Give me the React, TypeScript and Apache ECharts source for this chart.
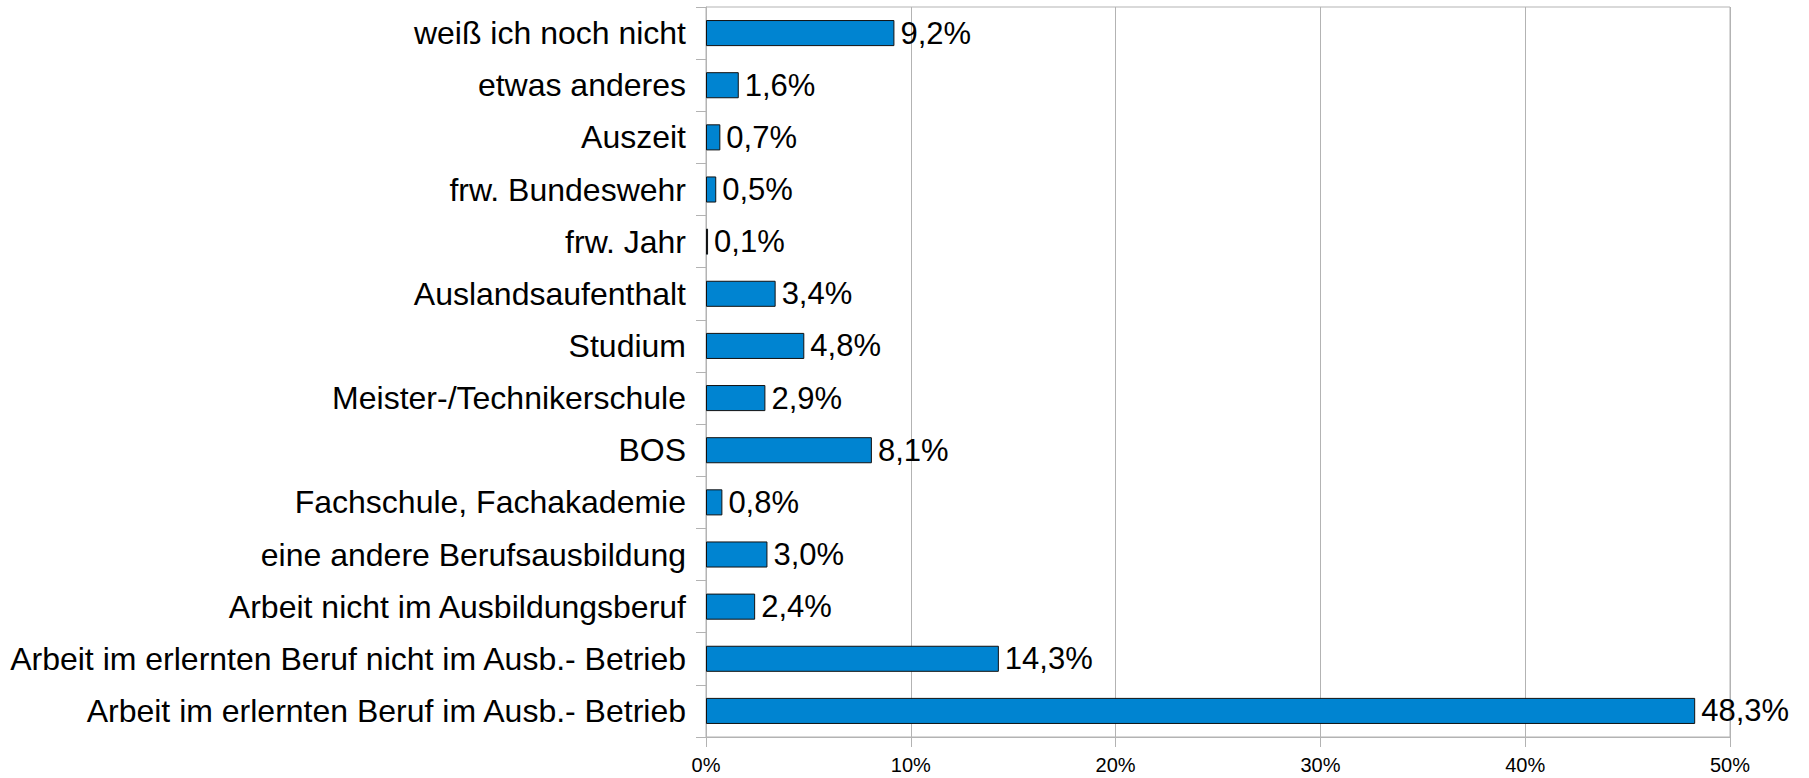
import React, { useEffect, useRef } from "react";
import * as echarts from "echarts";

// Categories listed bottom to top (ECharts category axis draws first at bottom)
const categories: string[] = [
  "Arbeit im erlernten Beruf im Ausb.- Betrieb",
  "Arbeit im erlernten Beruf nicht im Ausb.- Betrieb",
  "Arbeit nicht im Ausbildungsberuf",
  "eine andere Berufsausbildung",
  "Fachschule, Fachakademie",
  "BOS",
  "Meister-/Technikerschule",
  "Studium",
  "Auslandsaufenthalt",
  "frw. Jahr",
  "frw. Bundeswehr",
  "Auszeit",
  "etwas anderes",
  "weiß ich noch nicht",
];

const values: number[] = [48.3, 14.3, 2.4, 3.0, 0.8, 8.1, 2.9, 4.8, 3.4, 0.1, 0.5, 0.7, 1.6, 9.2];

const xMin = 0;
const xMax = 50;
const xInterval = 10;

const FONT = "'Liberation Sans', Arial, sans-serif";
const GRAY = "#b3b3b3";

export default function App() {
  const ref = useRef<HTMLDivElement>(null);

  useEffect(() => {
    document.body.style.margin = "0";
    if (!ref.current) return;
    const chart = echarts.init(ref.current, undefined, { renderer: "svg" });
    chart.setOption({
      animation: false,
      backgroundColor: "#ffffff",
      textStyle: { fontFamily: FONT, color: "#000" },
      grid: {
        left: 706,
        top: 7,
        width: 1024,
        height: 730,
        show: true,
        borderColor: GRAY,
        borderWidth: 1,
        backgroundColor: "transparent",
      },
      xAxis: {
        type: "value",
        min: xMin,
        max: xMax,
        interval: xInterval,
        axisLine: { show: true, lineStyle: { color: GRAY, width: 1 } },
        axisTick: { show: true, length: 10, lineStyle: { color: GRAY, width: 1 } },
        splitLine: { show: true, lineStyle: { color: GRAY, width: 1 } },
        axisLabel: {
          formatter: "{value}%",
          fontSize: 20,
          color: "#000",
          fontFamily: FONT,
          margin: 18,
        },
      },
      yAxis: {
        type: "category",
        data: categories,
        axisLine: { show: true, lineStyle: { color: GRAY, width: 1 } },
        axisTick: { show: true, length: 10, lineStyle: { color: GRAY, width: 1 } },
        splitLine: { show: false },
        axisLabel: {
          fontSize: 32,
          color: "#000",
          fontFamily: FONT,
          margin: 20,
        },
      },
      series: [
        {
          type: "bar",
          data: values,
          barWidth: "50%",
          itemStyle: {
            color: "#0084d1",
            borderColor: "#111111",
            borderWidth: 1,
          },
          label: {
            show: true,
            position: "right",
            distance: 6,
            fontSize: 31,
            color: "#000",
            fontFamily: FONT,
            formatter: (p: any) => p.value.toFixed(1).replace(".", ",") + "%",
          },
        },
      ],
    });
    return () => chart.dispose();
  }, []);

  return <div ref={ref} style={{ width: 1809, height: 778 }} />;
}
